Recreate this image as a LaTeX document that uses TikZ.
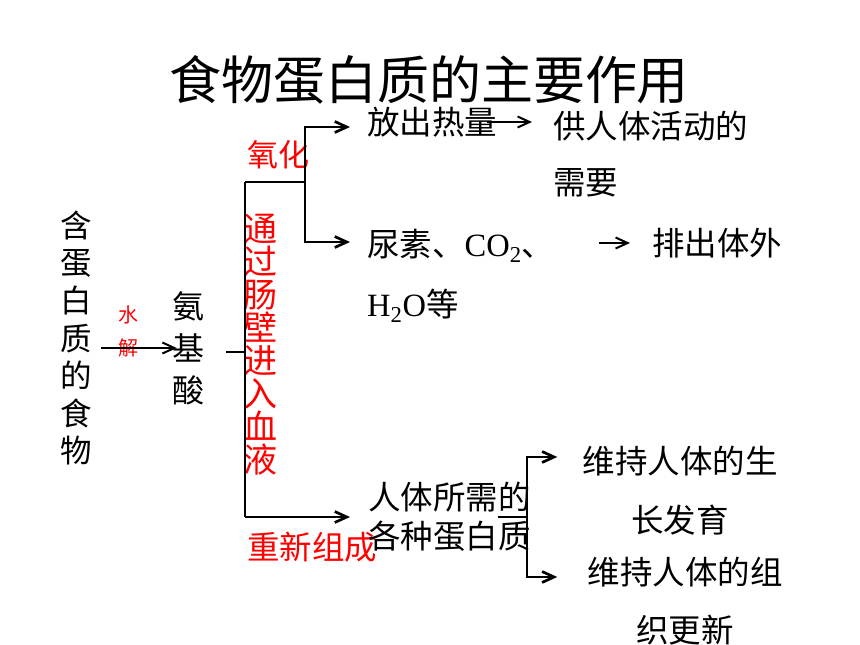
\documentclass[tikz,border=0pt]{standalone}
\usepackage{fontspec}
\setmainfont{Liberation Serif}
\newfontfamily\cjk{Noto Sans CJK SC}
\usetikzlibrary{arrows.meta,positioning}

\begin{document}
\begin{tikzpicture}[x=1pt, y=-1pt, >={Straight Barb[length=12pt,width=11pt]},
    txt/.style={inner sep=0pt, anchor=west, font=\cjk\fontsize{32.5}{39}\selectfont},
    col/.style={inner sep=0pt, align=center},
    red/.style={text=red},
    line/.style={line width=2.7pt},
    thinline/.style={line width=2pt}]
    \useasboundingbox (0,0) rectangle (860,645);

    % Nodes
    \node [inner sep=0pt, font=\cjk\fontsize{52}{60}\selectfont] (title) at (429,80) {食物蛋白质的主要作用};
    \node [col, font=\cjk\fontsize{31.5}{37.6}\selectfont] (food)  at (76,338)  {含\\蛋\\白\\质\\的\\食\\物};
    \node [col, red, font=\cjk\fontsize{20}{33}\selectfont] (water) at (128,331) {水\\解};
    \node [col, font=\cjk\fontsize{32}{42}\selectfont] (amino) at (188,348) {氨\\基\\酸};
    \node [col, red, font=\cjk\fontsize{34}{33}\selectfont] (blood) at (260,345) {通\\过\\肠\\壁\\进\\入\\血\\液};
    \node [txt, red, anchor=center, font=\cjk\fontsize{31}{36}\selectfont] (oxid) at (278,155) {氧化};
    \node [txt, red, anchor=center] (rebuild) at (312,547) {重新组成};

    \node [txt] (heat)   at (367,122) {放出热量};
    \node [txt] (energy) at (553,126) {供人体活动的};
    \node [txt] (need)   at (553,183) {需要};
    \node [txt] (waste)  at (367,246) {尿素、{\rmfamily CO\textsubscript{2}}、};
    \node [txt] (waste2) at (367,306) {{\rmfamily H\textsubscript{2}O}等};
    \node [txt] (out)    at (652,243) {排出体外};
    \node [txt, align=left] (protein) at (368,517) {人体所需的\\各种蛋白质};
    \node [txt, anchor=center] (grow)   at (680,461) {维持人体的生};
    \node [txt, anchor=center] (grow2)  at (680,520) {长发育};
    \node [txt, anchor=center] (renew)  at (685,572) {维持人体的组};
    \node [txt, anchor=center] (renew2) at (685,630) {织更新};

    \coordinate (split)  at (245,352);
    \coordinate (top)    at (245,182);
    \coordinate (bottom) at (245,517);
    \coordinate (fork)   at (305,182);
    \coordinate (fork2)  at (527,517);

    % Paths
    \draw [->, thinline, shorten <=9pt, shorten >=-5pt] (food.east |- amino.west) -- (amino.west);
    \draw [line, shorten <=22pt] (amino.east |- split) -- (split);
    \draw [line] (top) -- (bottom);
    \draw [line] (top) -- (fork);
    \draw [->, line, shorten >=17pt] (fork) |- ([yshift=-5pt]heat.west);
    \draw [->, line, shorten >=17pt] (fork) |- ([yshift=4pt]waste.west);
    \draw [->, line, shorten >=18pt] (bottom) -- (bottom -| protein.west);
    \draw [->, thinline, shorten <=-10pt, shorten >=21pt] (heat.east) -- (heat.east -| energy.west);
    \draw [->, thinline, shorten <=45pt, shorten >=22pt] (out.west -| waste.east) -- (out.west);
    \draw [line, shorten <=49pt] (protein.center |- fork2) -- (fork2);
    \draw [->, line, shorten >=25pt] (fork2) |- ([yshift=4pt]grow.west);
    \draw [->, line, shorten >=30pt] (fork2) |- ([yshift=-5pt]renew.west);
\end{tikzpicture}
\end{document}
